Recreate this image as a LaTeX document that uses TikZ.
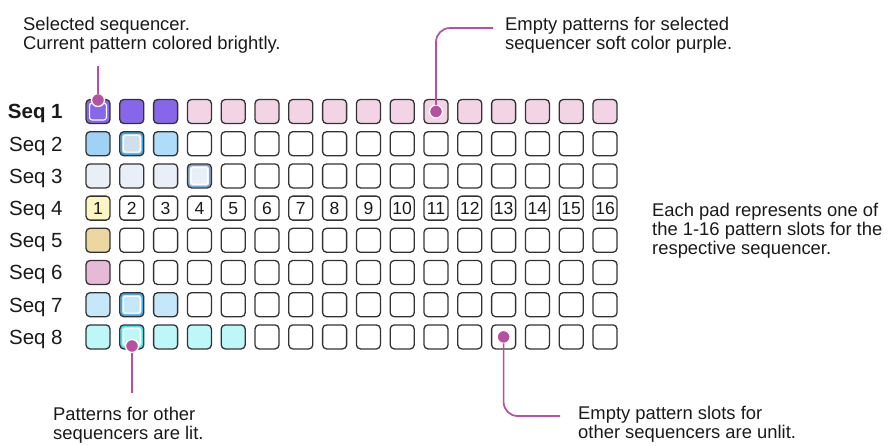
\documentclass[tikz,border=0pt]{standalone}
\usepackage{fontspec}
\setmainfont{Liberation Sans}
\usetikzlibrary{positioning}

\definecolor{padline}{HTML}{333333}
\definecolor{inktext}{HTML}{1A1A1A}
\definecolor{callout}{HTML}{B5519F}
\definecolor{seqpurple}{HTML}{8667E9}
\definecolor{softpink}{HTML}{F3D4E6}
\definecolor{bluea}{HTML}{9ED3F6}
\definecolor{blueb}{HTML}{AEDDF9}
\definecolor{bluecur}{HTML}{D0DFEC}
\definecolor{bluering}{HTML}{3FA2E6}
\definecolor{greyblue}{HTML}{E9EFF6}
\definecolor{greyring}{HTML}{7BA6CF}
\definecolor{paleyellow}{HTML}{FDF6C3}
\definecolor{tan}{HTML}{EBD79F}
\definecolor{mauve}{HTML}{E6B9D6}
\definecolor{skyblue}{HTML}{C5E7FA}
\definecolor{skyring}{HTML}{45A9EC}
\definecolor{aqua}{HTML}{BEF7F7}
\definecolor{aquaring}{HTML}{45E3EC}

\newcommand{\padfont}{\fontsize{17.5pt}{18pt}\selectfont}
\newcommand{\seqfont}{\fontsize{20.5pt}{22pt}\selectfont}
\newcommand{\notefont}{\fontsize{18.4pt}{19pt}\selectfont}

\begin{document}
\begin{tikzpicture}[
		x=1pt, y=-1pt,
		% Define styles for the pads
		pad/.style={
			rectangle, rounded corners=4pt, draw=padline, line width=1.3pt,
			fill=white, minimum size=24pt, inner sep=0pt, font=\padfont,
			text=inktext, text height=12.5pt, text depth=0pt
		},
		curpad/.style 2 args={
			fill=#1,
			path picture={
				\draw[#2, line width=1.8pt, rounded corners=3pt]
				([shift={(1.4pt,-1.4pt)}]path picture bounding box.north west) rectangle
				([shift={(-1.4pt,1.4pt)}]path picture bounding box.south east);
				\draw[white, line width=1.2pt, rounded corners=2.5pt]
				([shift={(3.6pt,-3.6pt)}]path picture bounding box.north west) rectangle
				([shift={(-3.6pt,3.6pt)}]path picture bounding box.south east);
			}
		},
		% Colours per row and per slot
		row 1/.style={fill=softpink},
		slot 1-1/.style={curpad={seqpurple}{seqpurple}},
		slot 1-2/.style={fill=seqpurple},
		slot 1-3/.style={fill=seqpurple},
		slot 2-1/.style={fill=bluea},
		slot 2-2/.style={curpad={bluecur}{bluering}},
		slot 2-3/.style={fill=blueb},
		slot 3-1/.style={fill=greyblue},
		slot 3-2/.style={fill=greyblue},
		slot 3-3/.style={fill=greyblue},
		slot 3-4/.style={curpad={greyblue}{greyring}},
		slot 4-1/.style={fill=paleyellow},
		slot 5-1/.style={fill=tan},
		slot 6-1/.style={fill=mauve},
		slot 7-1/.style={fill=skyblue},
		slot 7-2/.style={curpad={skyblue}{skyring}},
		slot 7-3/.style={fill=skyblue},
		slot 8-1/.style={fill=aqua},
		slot 8-2/.style={curpad={aqua}{aquaring}},
		slot 8-3/.style={fill=aqua},
		slot 8-4/.style={fill=aqua},
		slot 8-5/.style={fill=aqua},
		seqlabel/.style={
			font=\seqfont, text=inktext, inner sep=0pt,
			text height=14.7pt, text depth=0pt
		},
		note/.style={
			font=\notefont, text=inktext, align=left, inner sep=0pt, anchor=north west
		},
		callout/.style={
			draw=callout, line width=1.7pt, rounded corners=14pt
		},
		dot/.style={
			circle, fill=callout, draw=white, line width=1.3pt,
			minimum size=13pt, inner sep=0pt, outer sep=0pt
		}
		]
		\useasboundingbox (0,0) rectangle (888,445);
		
		% The pad grid: 8 sequencers with 16 pattern slots each
		\foreach \r in {1,...,8} {
			\foreach \c in {1,...,16} {
				\node[pad, row \r/.try, slot \r-\c/.try] (pad-\r-\c)
				at ({98+(\c-1)*33.8},{111.5+(\r-1)*32.2}) {\ifnum\r=4 \c\fi};
			}
			\node[seqlabel, left=22.5pt of pad-\r-1] (seq-\r)
			{\ifnum\r=1 \bfseries\fi Seq \r};
		}
		
		% Notes
		\node[note] (note-sel) at (23,17) {Selected sequencer.\\Current pattern colored brightly.};
		\node[note] (note-empty) at (505,17) {Empty patterns for selected\\sequencer soft color purple.};
		\node[note] (note-pad) at (652,203) {Each pad represents one of\\the 1-16 pattern slots for the\\respective sequencer.};
		\node[note] (note-lit) at (53,407) {Patterns for other\\sequencers are lit.};
		\node[note] (note-unlit) at (578,406) {Empty pattern slots for\\other sequencers are unlit.};
		
		% Callout dots and their free ends
		\node[dot] (dot-sel) at (98,100) {};
		\node[dot] (dot-empty) at (pad-1-11) {};
		\node[dot] (dot-lit) at (132,346) {};
		\node[dot] (dot-unlit) at (pad-8-13) {};
		\coordinate (end-sel) at (98,66);
		\coordinate (end-empty) at (493,28);
		\coordinate (end-lit) at (132,393);
		\coordinate (end-unlit) at (560,416);
		
		% Draw the callout lines
		\draw[callout] (end-sel) -- (dot-sel);
		\draw[callout] (dot-empty) |- (end-empty);
		\draw[callout] (dot-lit) -- (end-lit);
		\draw[callout] (dot-unlit) |- (end-unlit);
		
	\end{tikzpicture}
\end{document}
